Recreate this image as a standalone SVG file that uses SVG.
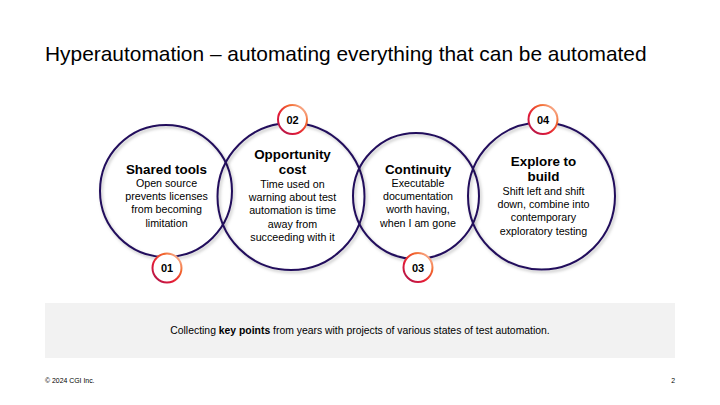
<svg xmlns="http://www.w3.org/2000/svg" width="720" height="405" viewBox="0 0 720 405">
  <defs>
    <linearGradient id="badgeRing" x1="0" y1="1" x2="1" y2="0">
      <stop offset="0" stop-color="#a3174f"/>
      <stop offset="0.35" stop-color="#e31937"/>
      <stop offset="0.7" stop-color="#f26a2e"/>
      <stop offset="1" stop-color="#fdd5c8"/>
    </linearGradient>
    <filter id="soft" x="-20%" y="-20%" width="140%" height="140%">
      <feDropShadow dx="1.5" dy="2" stdDeviation="1.5" flood-color="#000" flood-opacity="0.25"/>
    </filter>
    <style>
      .ring { fill: none; stroke: #22105c; stroke-width: 2; filter: url(#soft); }
      .badge { fill: #fff; stroke: url(#badgeRing); stroke-width: 2; }
      .num { font-family: "Liberation Sans", Arial, sans-serif; font-weight: bold; font-size: 11px; fill: #000; text-anchor: middle; }
      .head { font-family: "Liberation Sans", Arial, sans-serif; font-weight: bold; font-size: 13.4px; fill: #000; text-anchor: middle; }
      .body { font-family: "Liberation Sans", Arial, sans-serif; font-size: 10.7px; fill: #000; text-anchor: middle; }
      .title { font-family: "Liberation Sans", Arial, sans-serif; font-size: 20.9px; fill: #000; }
      .note { font-family: "Liberation Sans", Arial, sans-serif; font-size: 10.4px; fill: #000; text-anchor: middle; }
      .foot { font-family: "Liberation Sans", Arial, sans-serif; font-size: 6.9px; fill: #000; }
    </style>
  </defs>

  <rect width="720" height="405" fill="#fff"/>

  <text class="title" x="45" y="61">Hyperautomation – automating everything that can be automated</text>

  <!-- outline rings -->
  <g id="rings">
    <circle class="ring" cx="166" cy="191" r="66"/>
    <circle class="ring" cx="291" cy="196.5" r="73.5"/>
    <circle class="ring" cx="416" cy="196" r="63"/>
    <circle class="ring" cx="541.5" cy="196" r="73.5"/>
  </g>

  <g id="node-01">
    <text class="head" x="166.5" y="174">Shared tools</text>
    <text class="body" x="166.5" y="187">Open source</text>
    <text class="body" x="166.5" y="200">prevents licenses</text>
    <text class="body" x="166.5" y="213.3">from becoming</text>
    <text class="body" x="166.5" y="226.6">limitation</text>
    <circle class="badge" cx="167" cy="268" r="14.5"/>
    <text class="num" x="167" y="272">01</text>
  </g>

  <g id="node-02">
    <text class="head" x="292.5" y="159">Opportunity</text>
    <text class="head" x="292.5" y="174">cost</text>
    <text class="body" x="292.5" y="187.5">Time used on</text>
    <text class="body" x="292.5" y="201">warning about test</text>
    <text class="body" x="292.5" y="214.3">automation is time</text>
    <text class="body" x="292.5" y="227.6">away from</text>
    <text class="body" x="292.5" y="240.5">succeeding with it</text>
    <circle class="badge" cx="292.5" cy="119.5" r="14.5"/>
    <text class="num" x="292.5" y="123.5">02</text>
  </g>

  <g id="node-03">
    <text class="head" x="418" y="173.5">Continuity</text>
    <text class="body" x="418" y="186.7">Executable</text>
    <text class="body" x="418" y="199.8">documentation</text>
    <text class="body" x="418" y="213.2">worth having,</text>
    <text class="body" x="418" y="226.6">when I am gone</text>
    <circle class="badge" cx="418" cy="267.5" r="14.5"/>
    <text class="num" x="418" y="271.5">03</text>
  </g>

  <g id="node-04">
    <text class="head" x="543.5" y="166">Explore to</text>
    <text class="head" x="543.5" y="181">build</text>
    <text class="body" x="543.5" y="194.5">Shift left and shift</text>
    <text class="body" x="543.5" y="208">down, combine into</text>
    <text class="body" x="543.5" y="221.3">contemporary</text>
    <text class="body" x="543.5" y="234.6">exploratory testing</text>
    <circle class="badge" cx="543" cy="119.5" r="14.5"/>
    <text class="num" x="543" y="123.5">04</text>
  </g>

  <g id="summary">
    <rect x="45" y="303" width="630" height="55" fill="#f2f2f2"/>
    <text class="note" x="360" y="334">Collecting <tspan font-weight="bold">key points</tspan> from years with projects of various states of test automation.</text>
  </g>

  <text class="foot" x="45" y="383">© 2024 CGI Inc.</text>
  <text class="foot" x="675" y="383" text-anchor="end">2</text>
</svg>
